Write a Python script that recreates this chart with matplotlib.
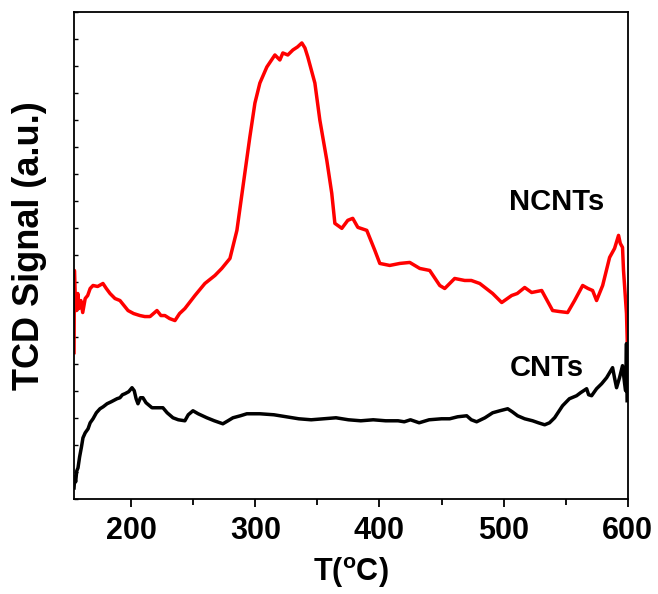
import numpy as np
import matplotlib.pyplot as plt
from matplotlib.ticker import MultipleLocator

plt.rcParams['font.family'] = ['Liberation Sans', 'DejaVu Sans']
plt.rcParams['mathtext.fontset'] = 'custom'
plt.rcParams['mathtext.rm'] = 'Liberation Sans:bold'

# NCNTs trace (temperature, signal in arbitrary units)
T_ncnt = [154.0, 154.3, 155.0, 156.0, 157.0, 158.0, 159.5, 161.0, 163.0, 165.0, 167.0, 169.3,
          173.0, 177.3, 180.0, 183.0, 187.0, 191.0, 197.5, 202.0, 207.1, 211.0, 215.2, 220.8,
          224.0, 227.2, 231.0, 235.3, 239.0, 243.3, 251.4, 259.4, 267.5, 273.0, 279.6, 285.2,
          290.0, 295.6, 299.7, 303.7, 309.3, 315.8, 319.8, 322.2, 326.2, 330.3, 334.0, 337.5,
          340.0, 342.3, 348.0, 352.0, 357.6, 361.6, 364.1, 369.7, 374.5, 378.5, 382.6, 389.8,
          396.3, 400.3, 408.3, 416.4, 424.4, 432.5, 440.5, 448.6, 452.6, 460.6, 468.7, 474.0,
          480.8, 491.2, 498.5, 506.5, 511.0, 517.0, 522.6, 530.7, 539.5, 545.0, 551.6, 557.2,
          563.7, 568.0, 571.7, 574.9, 579.8, 585.4, 589.4, 592.6, 594.0, 595.8, 596.6, 599.0,
          599.8]
S_ncnt = [146, 228, 200, 188, 205, 190, 198, 186, 200, 203, 210, 213,
          212, 215, 210, 205, 200, 198, 188, 185, 183, 182, 182, 188,
          183, 183, 180, 178, 185, 190, 203, 215, 223, 230, 240, 268,
          311, 361, 395, 415, 431, 443, 438, 445, 443, 448, 451, 455,
          450, 441, 415, 378, 338, 305, 275, 270, 278, 280, 271, 268,
          248, 235, 233, 235, 236, 230, 228, 213, 210, 220, 218, 218,
          215, 205, 196, 203, 205, 211, 206, 208, 188, 187, 186, 198,
          213, 210, 208, 198, 213, 241, 250, 263, 255, 251, 228, 185,
          148]

# CNTs trace
T_cnt = [154.0, 154.6, 155.3, 156.2, 157.2, 158.5, 160.0, 161.2, 163.0, 165.3, 167.0, 169.3,
         172.0, 174.9, 177.5, 180.6, 184.0, 188.6, 191.0, 193.0, 195.0, 198.0, 200.7, 202.5,
         204.0, 205.5, 207.5, 209.5, 212.0, 216.8, 221.0, 225.6, 229.0, 233.7, 238.0, 243.3,
         246.0, 249.8, 254.0, 261.0, 267.0, 273.9, 278.0, 282.0, 288.0, 293.2, 303.7, 315.0,
         325.0, 335.0, 345.0, 355.0, 365.0, 375.0, 385.0, 395.0, 405.0, 415.0, 420.0, 425.0,
         432.0, 440.0, 450.0, 456.6, 463.0, 470.3, 474.0, 478.3, 485.0, 491.2, 497.0, 503.3,
         507.0, 511.3, 517.0, 523.4, 528.0, 533.1, 537.0, 541.1, 547.5, 553.0, 558.8, 562.0,
         566.9, 568.5, 570.9, 574.9, 579.0, 583.0, 587.8, 589.5, 591.0, 593.4, 595.8, 597.5,
         598.3, 599.0, 599.5]
S_cnt = [11, 22, 17, 28, 31, 42, 52, 61, 66, 70, 76, 80,
         86, 90, 92, 95, 97, 100, 101, 104, 105, 107, 111, 108,
         100, 95, 101, 101, 96, 91, 91, 91, 86, 81, 79, 78,
         84, 88, 85, 81, 78, 75, 78, 81, 83, 85, 85, 84,
         82, 80, 79, 80, 81, 79, 78, 79, 78, 78, 77, 79,
         76, 79, 80, 80, 82, 83, 79, 77, 81, 86, 88, 90,
         87, 83, 80, 78, 76, 74, 76, 81, 93, 100, 103, 106,
         110, 104, 103, 110, 115, 121, 131, 120, 111, 121, 133, 115,
         108, 155, 98]

fig = plt.figure(figsize=(6.58, 5.94), dpi=100)
ax = fig.add_axes([0.1125, 0.16, 0.8415, 0.82])

ax.plot(T_ncnt, S_ncnt, color='#ff0000', lw=2.5)
ax.plot(T_cnt, S_cnt, color='black', lw=2.5)

ax.set_xlim(154, 600)
ax.set_ylim(0, 486)

ax.xaxis.set_major_locator(MultipleLocator(100))
ax.xaxis.set_minor_locator(MultipleLocator(50))
ax.tick_params(axis='x', which='major', direction='out', length=6, width=1.3,
               labelsize=22, pad=6)
ax.tick_params(axis='x', which='minor', direction='out', length=4, width=1.3)
for lab in ax.get_xticklabels():
    lab.set_fontweight('bold')

ax.set_yticks(np.arange(0, 487, 27))
ax.set_yticklabels([])
ax.tick_params(axis='y', direction='in', length=3, width=1.0)

for sp in ax.spines.values():
    sp.set_linewidth(1.3)

ax.set_xlabel(r'T($^{\mathregular{o}}$C)', fontsize=22, fontweight='bold')
ax.xaxis.set_label_coords(0.5, -0.115)
ax.set_ylabel('TCD Signal (a.u.)', fontsize=26, fontweight='bold')
ax.yaxis.set_label_coords(-0.048, 0.52)

ax.text(542.7, 296, 'NCNTs', fontsize=21, fontweight='bold', ha='center', va='center')
ax.text(534.7, 131, 'CNTs', fontsize=21, fontweight='bold', ha='center', va='center')

fig.savefig('out.png', dpi=100)
